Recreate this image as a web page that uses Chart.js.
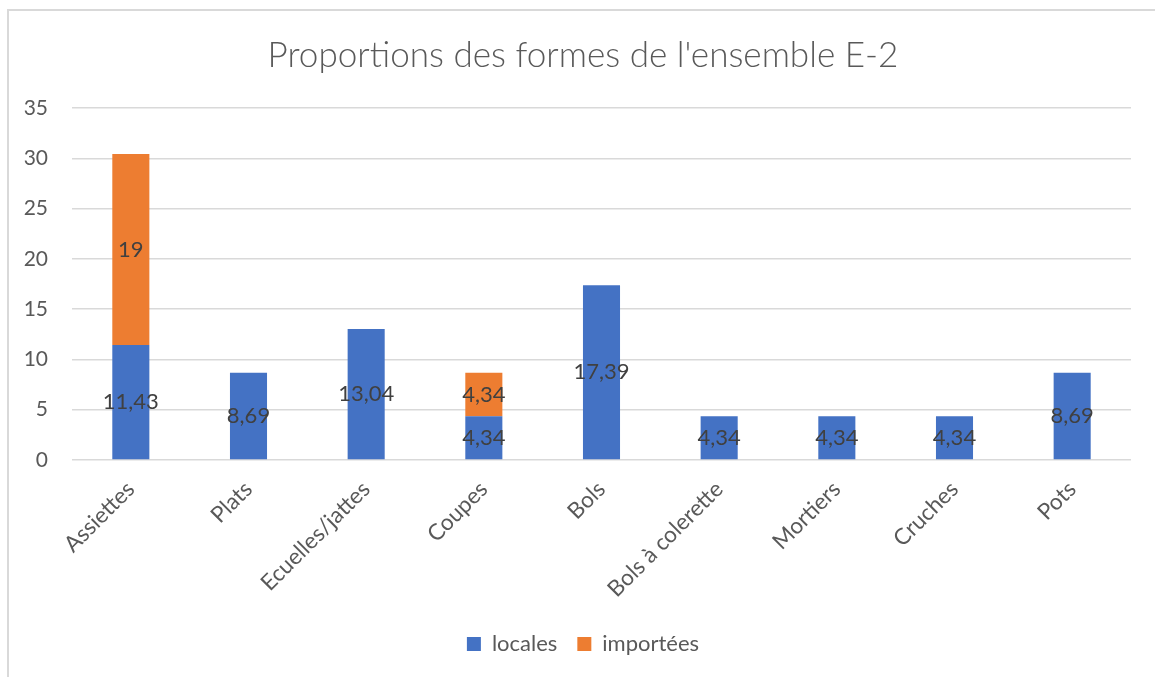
<!DOCTYPE html>
<html>
<head>
<meta charset="utf-8">
<script src="https://cdn.jsdelivr.net/npm/chart.js@4.4.1/dist/chart.umd.min.js"></script>
<style>
  html, body { margin: 0; padding: 0; background: #ffffff; }
  #wrap { position: absolute; left: 0; top: 0; width: 1155px; height: 677px; }
</style>
</head>
<body>
<div id="wrap"><canvas id="c" width="1155" height="677"></canvas></div>
<script>
const categories = ['Assiettes', 'Plats', 'Ecuelles/jattes', 'Coupes', 'Bols', 'Bols à colerette', 'Mortiers', 'Cruches', 'Pots'];
const locales = [11.43, 8.69, 13.04, 4.34, 17.39, 4.34, 4.34, 4.34, 8.69];
const importees = [19, null, null, 4.34, null, null, null, null, null];
const yTicks = [0, 5, 10, 15, 20, 25, 30, 35];
const titleText = "Proportions des formes de l'ensemble E-2";

const framePlugin = {
  id: 'frame',
  beforeDraw(chart) {
    const ctx = chart.ctx;
    ctx.save();
    ctx.fillStyle = '#ffffff';
    ctx.fillRect(0, 0, chart.width, chart.height);
    ctx.strokeStyle = '#d9d9d9';
    ctx.lineWidth = 2;
    ctx.beginPath();
    ctx.moveTo(8, chart.height);
    ctx.lineTo(8, 10);
    ctx.lineTo(chart.width, 10);
    ctx.stroke();
    ctx.restore();
  }
};

// let the y-axis tick labels use the space left of the layout padding (avoid clipping)
const yLabelRoom = {
  id: 'yLabelRoom',
  afterLayout(chart) {
    const y = chart.scales.y;
    y.width = y.right;
    y.left = 0;
  }
};

const labelPlugin = {
  id: 'segLabels',
  afterDatasetsDraw(chart) {
    const ctx = chart.ctx;
    ctx.save();
    ctx.font = '22px Lato';
    ctx.fillStyle = '#404040';
    ctx.textAlign = 'center';
    ctx.textBaseline = 'middle';
    chart.data.datasets.forEach((ds, di) => {
      const meta = chart.getDatasetMeta(di);
      meta.data.forEach((el, i) => {
        const v = ds.data[i];
        if (v === null || v === undefined) return;
        const p = el.getProps(['x', 'y', 'base'], true);
        ctx.fillText(String(v).replace('.', ','), p.x, (p.y + p.base) / 2);
      });
    });
    ctx.restore();
  }
};

new Chart(document.getElementById('c'), {
  type: 'bar',
  data: {
    labels: categories,
    datasets: [
      { label: 'locales', data: locales, backgroundColor: '#4472c4', borderWidth: 0 },
      { label: 'importées', data: importees, backgroundColor: '#ed7d31', borderWidth: 0 }
    ]
  },
  options: {
    responsive: false,
    animation: false,
    devicePixelRatio: 1,
    categoryPercentage: 1,
    barPercentage: 0.315,
    layout: { padding: { left: 35, right: 24, top: 0, bottom: 12 } },
    plugins: {
      title: {
        display: true,
        text: titleText,
        color: '#595959',
        font: { family: 'Lato', size: 35.1, weight: '300', lineHeight: 1.2 },
        padding: { top: 35, bottom: 31 }
      },
      legend: {
        display: true,
        position: 'bottom',
        labels: {
          boxWidth: 14,
          boxHeight: 14,
          padding: 20,
          color: '#595959',
          font: { family: 'Lato', size: 22 }
        }
      },
      tooltip: { enabled: false }
    },
    scales: {
      x: {
        stacked: true,
        grid: { display: false, drawTicks: false },
        border: { display: false },
        ticks: {
          color: '#595959',
          font: { family: 'Lato', size: 22.5 },
          minRotation: 45,
          maxRotation: 45,
          padding: 16
        },
        afterFit(scale) { scale.height = 153; }
      },
      y: {
        stacked: true,
        min: 0,
        max: 35,
        afterBuildTicks(scale) { scale.ticks = yTicks.map(v => ({ value: v })); },
        grid: { color: '#d9d9d9', lineWidth: 1.5, drawTicks: false },
        border: { display: false },
        ticks: {
          color: '#595959',
          font: { family: 'Lato', size: 21 },
          padding: 24
        },
        afterFit(scale) { scale.width = 37; }
      }
    }
  },
  plugins: [framePlugin, yLabelRoom, labelPlugin]
});
</script>
</body>
</html>
